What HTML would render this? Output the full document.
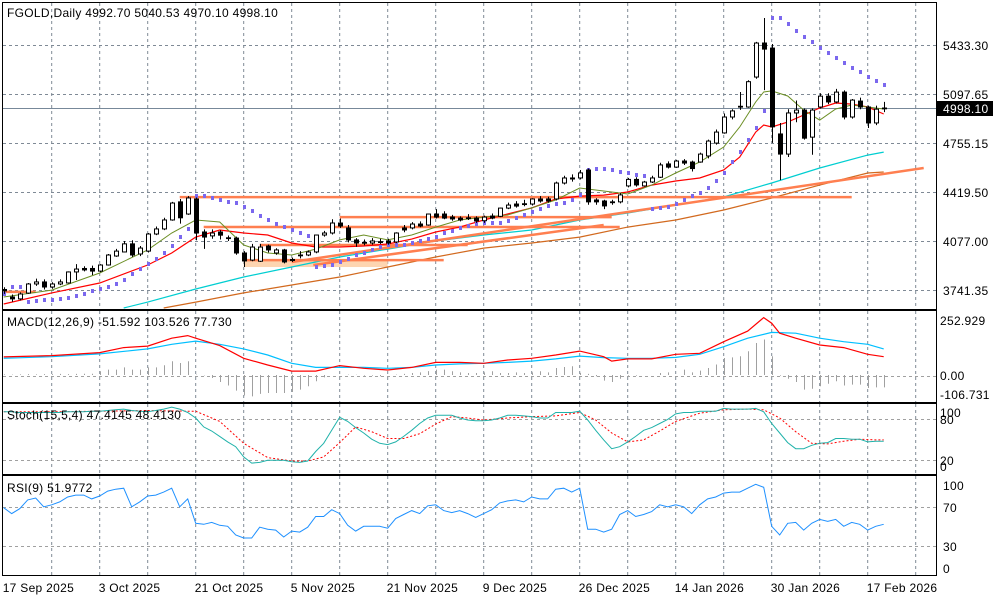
<!DOCTYPE html>
<html><head><meta charset="utf-8"><title>FGOLD Daily</title>
<style>html,body{margin:0;padding:0;background:#fff;}svg{display:block;font-family:"Liberation Sans",sans-serif;font-size:12px;letter-spacing:0.3px;}</style>
</head><body>
<svg id="chart" width="1000" height="600" viewBox="0 0 1000 600" xmlns="http://www.w3.org/2000/svg">
<rect x="0" y="0" width="1000" height="600" fill="#fff"/>
<defs>
<clipPath id="cMain"><rect x="2" y="2" width="934" height="307"/></clipPath>
<clipPath id="cMacd"><rect x="2" y="311" width="934" height="91"/></clipPath>
<clipPath id="cSto"><rect x="2" y="404" width="934" height="70"/></clipPath>
<clipPath id="cRsi"><rect x="2" y="476" width="934" height="99"/></clipPath>
</defs>
<g id="grid"></g>
<g id="main" clip-path="url(#cMain)"></g>
<g id="macd" clip-path="url(#cMacd)"></g>
<g id="sto" clip-path="url(#cSto)"></g>
<g id="rsi" clip-path="url(#cRsi)"></g>
<g id="frames">
<rect x="2.5" y="2.5" width="934" height="307" fill="none" stroke="#000"/>
<rect x="2.5" y="310.5" width="934" height="92" fill="none" stroke="#000"/>
<rect x="2.5" y="403.5" width="934" height="71" fill="none" stroke="#000"/>
<rect x="2.5" y="475.5" width="934" height="100" fill="none" stroke="#000"/>
</g>
<g id="labels">
<text x="7" y="17">FGOLD,Daily  4992.70 5040.53 4970.10 4998.10</text>
<text x="7" y="326">MACD(12,26,9) -51.592 103.526 77.730</text>
<text x="7" y="419">Stoch(15,5,4) 47.4145 48.4130</text>
<text x="7" y="492">RSI(9) 51.9772</text>
<text x="940" y="325">252.929</text>
<text x="940" y="380">0.00</text>
<text x="940" y="399">-106.731</text>
<text x="940" y="417">100</text>
<text x="940" y="424">80</text>
<text x="940" y="465">20</text>
<text x="940" y="471">0</text>
<text x="943" y="490">100</text>
<text x="943" y="512">70</text>
<text x="943" y="551">30</text>
<text x="943" y="573">0</text>
</g>
</svg>
<script>
const NS="http://www.w3.org/2000/svg";
const opens=[3745,3693,3680,3720,3783,3797,3762,3783,3790,3866,
3890,3890,3872,3914,3976,4004,4060,3990,4010,4128,
4163,4225,4350,4266,4370,4142,4115,4142,4100,4100,
3997,3948,3940,4045,3997,4018,3952,3980,3983,4004,
4121,4135,4204,4170,4087,4070,4066,4073,4080,4073,
4170,4170,4197,4190,4266,4266,4245,4238,4240,4238,
4220,4252,4250,4307,4335,4335,4335,4370,4370,4370,
4480,4515,4515,4570,4363,4356,4350,4350,4460,4505,
4460,4487,4520,4612,4590,4632,4625,4625,4667,4756,
4826,4936,5005,5005,5212,5447,5412,4819,4680,4964,
4984,4797,5005,5080,5040,5108,4936,5046,5005,4895,4992.7];
const closes=[3735,3680,3714,3783,3797,3762,3783,3797,3866,3886,
3880,3872,3914,3983,4010,4060,3983,4031,4128,4163,
4225,4342,4240,4377,4135,4107,4135,4120,4102,3997,
3942,4038,4038,4018,4018,3935,3945,3983,4004,4121,
4135,4204,4183,4087,4066,4066,4080,4075,4066,4135,
4156,4197,4183,4266,4245,4238,4232,4225,4238,4218,
4245,4238,4307,4328,4321,4337,4370,4356,4356,4480,
4515,4508,4550,4350,4350,4322,4348,4398,4505,4467,
4487,4515,4605,4590,4632,4618,4580,4680,4770,4832,
4936,4978,5010,5180,5447,5405,4868,4680,4964,4984,
4790,4984,5080,5040,5108,4936,5053,5005,4895,4990,4998.1];
const highs=[3760,3710,3725,3790,3820,3815,3795,3815,3870,3920,
3905,3910,3920,3990,4025,4080,4085,4045,4135,4180,
4240,4350,4370,4390,4380,4160,4160,4155,4118,4110,
4010,4060,4060,4055,4030,4025,3965,4010,4015,4125,
4150,4230,4235,4190,4100,4090,4100,4095,4095,4140,
4190,4210,4215,4270,4300,4285,4260,4250,4265,4250,
4255,4270,4310,4345,4355,4365,4375,4390,4385,4490,
4530,4540,4570,4580,4375,4365,4365,4410,4515,4520,
4495,4530,4620,4630,4640,4645,4635,4690,4780,4850,
4960,4990,5109,5190,5455,5620,5440,4895,4990,5050,
4995,4995,5100,5100,5130,5120,5060,5070,5015,5015,5040.53];
const lows=[3715,3660,3670,3715,3770,3745,3750,3775,3785,3810,
3870,3845,3865,3910,3970,4000,3970,3975,4000,4120,
4155,4220,4200,4260,4085,4025,4095,4090,4080,3985,
3900,3940,3935,4000,3985,3925,3935,3960,3975,3995,
4110,4125,4170,4070,4040,4050,4055,4060,4055,4065,
4140,4160,4175,4185,4235,4230,4220,4215,4225,4205,
4205,4230,4245,4300,4310,4320,4325,4345,4345,4360,
4470,4490,4505,4330,4330,4300,4330,4340,4450,4455,
4455,4480,4515,4580,4585,4605,4560,4620,4650,4745,
4820,4920,4985,5000,5200,5122,4757,4500,4660,4900,
4780,4675,4995,5025,5030,4920,4925,4990,4860,4880,4970.1];
const maIdx=[0,6,12,18,21,24,27,30,33,36,39,42,45,48,51,54,57,60,63,66,69,72,75,78,81,84,87,90,92,94,95,96,98,100,102,104,106,108,110];
const maFast=[3693,3741,3859,4018,4135,4225,4211,4052,3997,3983,4024,4087,4121,4087,4121,4176,4225,4245,4259,4308,4363,4446,4425,4404,4466,4549,4625,4729,4867,5040,5109,5116,5081,4984,4915,4991,5019,5005,4991];
const maMid=[3645,3721,3790,3914,3997,4107,4156,4135,4121,4066,4038,4038,4045,4059,4093,4142,4176,4225,4266,4308,4370,4390,4397,4418,4466,4494,4515,4570,4659,4832,4881,4867,4901,4950,4998,5033,5025,5005,4957];
const maSlowIdx=[15,18,24,30,36,42,48,54,60,66,72,78,84,90,96,102,108,110];
const maSlow=[3617,3658,3748,3831,3900,3969,4024,4080,4121,4156,4225,4273,4328,4384,4480,4584,4673,4694];
const maLongIdx=[20,24,30,36,42,48,54,60,66,72,78,84,90,96,102,108,110];
const maLong=[3617,3658,3721,3776,3831,3900,3969,4031,4066,4107,4176,4225,4294,4377,4466,4549,4556];
const macdIdx=[0,6,12,15,18,21,23,24,27,30,33,36,39,42,45,48,51,54,57,60,63,66,69,72,75,76,78,81,84,87,90,93,95,96,97,99,102,105,108,110];
const macdMain=[83,89,103,126,133,169,181,169,135,77,46,18,18,43,31,23,35,58,58,54,69,77,92,110,84,64,74,74,95,100,153,202,264,238,192,169,138,126,95,84];
const sigIdx=[0,6,12,18,21,24,27,30,33,36,39,42,45,48,51,54,57,60,63,66,69,72,75,78,81,84,87,90,93,96,99,102,105,108,110];
const macdSignal=[77,84,97,120,141,156,141,120,92,54,35,35,35,31,35,46,51,54,58,64,74,87,80,77,77,81,95,130,169,196,192,169,153,141,120];
const macdHist=[3,2,3,4,3,4,4,5,4,5,
6,6,17,25,25,35,25,25,35,35,
45,63,55,63,2,-2,-14,-32,-48,-72,
-94,-98,-87,-83,-83,-83,-78,-67,-52,-29,
-11,0,0,2,1,-3,-3,-6,0,2,
5,9,12,18,25,25,17,12,9,9,
12,17,9,9,12,9,12,17,12,32,
37,40,10,5,-6,-26,-32,-17,-3,-3,
0,0,9,12,0,25,12,20,32,48,
78,81,86,109,147,163,86,-3,-17,-32,
-67,-63,-52,-40,-29,-48,-44,-44,-60,-57,-57];
const stochK=[91,91,90,90,90,90,90,90,91,91,
91,92,92,93,94,95,93,92,91,93,
95,98,95,90,82,69,63,55,47,40,
25,16,17,20,20,20,18,17,19,33,
45,64,83,77,68,60,51,45,43,47,
55,64,74,82,86,86,86,82,79,78,
78,79,82,86,86,85,84,82,82,90,
90,90,92,79,64,50,37,40,47,55,
64,68,74,80,88,90,90,92,92,92,
96,95,95,95,96,91,74,60,46,37,
37,42,45,46,52,52,51,51,47,48,48];
const stochSigIdx=[0,6,12,18,23,24,27,30,33,36,38,40,42,44,46,48,50,52,54,56,58,60,63,66,69,72,74,76,78,80,82,84,87,90,93,95,97,99,101,103,105,107,109,110];
const stochSignal=[91,91,92,93,92,92,77,45,24,19,19,25,46,69,62,52,52,59,73,84,82,79,82,84,85,90,79,60,47,50,63,77,89,94,95,94,82,62,45,44,48,51,50,50];
const rsiVals=[69,63,68,77,79,70,72,75,80,82,
82,78,81,86,88,89,70,75,81,82,
85,89,70,78,53,52,54,51,50,41,
38,38,49,47,46,39,45,44,49,60,
60,67,63,51,45,50,50,50,48,58,
62,66,63,71,72,66,64,66,63,59,
63,67,74,76,77,75,80,78,78,88,
89,85,89,47,47,44,47,62,66,60,
62,65,72,70,72,70,63,72,78,80,
84,85,85,89,93,90,50,41,53,54,
46,53,57,55,57,50,54,52,46,50,52];
const priceTicks=[5433.30,5097.65,4755.15,4419.50,4077.00,3741.35];
const dateLabels=["17 Sep 2025","3 Oct 2025","21 Oct 2025","5 Nov 2025","21 Nov 2025","9 Dec 2025","26 Dec 2025","14 Jan 2026","30 Jan 2026","17 Feb 2026"];
const dateBars=[0,12,24,36,48,60,72,84,96,108];
const lastPrice=4998.10;
const levelLines=[[4383,22,4383,106],[4245,42,4245,76],[4176,25,4176,77],[4052,32,4052,58],[3948,30,3948,55],[3935,36,4584,115],[3914,38.7,4190,75],[3728,0,3728,4]];
const zoneBox=[3948,3900,30,48];

function py(p){return 45+(5433.3-p)*0.144803;}
function bx(i){return 3.7+8*i;}
function my(v){return 375-v*0.2175;}
function sy(v){return 474-v*0.683;}
function ry(v){return 575-v*0.975;}
function mk(tag,parent,attrs){const e=document.createElementNS(NS,tag);for(const k in attrs)e.setAttribute(k,attrs[k]);parent.appendChild(e);return e;}

const grid=document.getElementById('grid');
const main=document.getElementById('main');
const macdG=document.getElementById('macd');
const stoG=document.getElementById('sto');
const rsiG=document.getElementById('rsi');
const labels=document.getElementById('labels');
const GC="#7f8a96";
for(let k=0;k<19;k++){const x=51.7+48*k;
 [[3,309],[311,402],[404,474],[476,575]].forEach(r=>{
  const l=mk('line',grid,{x1:x,x2:x,y1:r[0],y2:r[1],stroke:GC,'stroke-dasharray':'3,3'});
  
  
 });}
priceTicks.forEach(p=>{const y=Math.round(py(p))+0.5;
 const l=mk('line',grid,{x1:3,x2:936,y1:y,y2:y,stroke:GC,'stroke-dasharray':'3,3'});
 
 
 const t=mk('text',labels,{x:943,y:y+4.5});t.textContent=p.toFixed(2);
 
 
});
[[375.5],[sy(80)],[sy(20)],[ry(70)],[ry(30)]].forEach(a=>{const y=Math.round(a[0])+0.5;
 const l=mk('line',grid,{x1:3,x2:936,y1:y,y2:y,stroke:'#a0a0a0','stroke-dasharray':'3,3'});
 
 
});
dateLabels.forEach((d,i)=>{const t=mk('text',labels,{x:bx(dateBars[i])-1,y:592});t.textContent=d;
 
 
});
const cpY=Math.round(py(lastPrice))+0.5;
const cpl=mk('line',main,{x1:3,x2:936,y1:cpY,y2:cpY,stroke:'#778899'});


const cpb=mk('rect',labels,{x:937,y:cpY-7.5,width:56,height:15,fill:'#000'});


const cpt=mk('text',labels,{x:943,y:cpY+4.5,fill:'#fff'});cpt.textContent=lastPrice.toFixed(2);



const zb=mk('rect',main,{x:bx(zoneBox[2]),y:py(zoneBox[0]),width:bx(zoneBox[3])-bx(zoneBox[2]),height:py(zoneBox[1])-py(zoneBox[0]),fill:'#fdd5b1'});


function poly(g,idx,vals,fy,color,w,dash,name){
 const pts=idx.map((i,k)=>bx(i).toFixed(1)+','+fy(vals[k]).toFixed(1)).join(' ');
 const e=mk('polyline',g,{points:pts,fill:'none',stroke:color,'stroke-width':w});
 if(dash)e.setAttribute('stroke-dasharray',dash);
 
 
 return e;}
const allIdx=closes.map((c,i)=>i);
poly(main,maLongIdx,maLong,py,'#d2691e',1.2,null,'ma-long-line');
poly(main,maSlowIdx,maSlow,py,'#00ced1',1.2,null,'ma-slow-line');
levelLines.forEach(L=>{
 const e=mk('line',main,{x1:bx(L[1]),y1:py(L[0]),x2:bx(L[3]),y2:py(L[2]),stroke:'#ff7f50','stroke-width':2.5});
 
 
});
poly(main,maIdx,maMid,py,'#ff0000',1.2,null,'ma-mid-line');
poly(main,maIdx,maFast,py,'#6b8e23',1,null,'ma-fast-line');

(function(){let up=true,af=0.02,ep=highs[0],sar=lows[0];const s=[sar];
 for(let i=1;i<closes.length;i++){sar=sar+af*(ep-sar);
  if(up){sar=Math.min(sar,lows[i-1],lows[Math.max(0,i-2)]);
   if(lows[i]<sar){up=false;sar=ep;ep=lows[i];af=0.02;}
   else if(highs[i]>ep){ep=highs[i];af=Math.min(af+0.02,0.2);}}
  else{sar=Math.max(sar,highs[i-1],highs[Math.max(0,i-2)]);
   if(highs[i]>sar){up=true;sar=ep;ep=highs[i];af=0.02;}
   else if(lows[i]<ep){ep=lows[i];af=Math.min(af+0.02,0.2);}}
  s.push(sar);}
 s.forEach((v,i)=>{const d=mk('rect',main,{x:Math.round(bx(i))-1,y:Math.round(py(v))-2,width:3,height:4,fill:'#7b68ee'});
  
  });
})();

closes.forEach((c,i)=>{const o=opens[i],x=Math.round(bx(i));
 const w=mk('line',main,{x1:x+0.5,x2:x+0.5,y1:py(highs[i]),y2:py(lows[i]),stroke:'#000'});
 
 
 const top=py(Math.max(o,c)),bot=py(Math.min(o,c));
 const b=mk('rect',main,{x:x-2+0.5,y:top,width:4,height:Math.max(bot-top,0.8),fill:c>=o?'#fff':'#000',stroke:'#000'});
 
 
});

macdHist.forEach((v,i)=>{const x=Math.round(bx(i))+0.5;
 const h=mk('line',macdG,{x1:x,x2:x,y1:my(0),y2:my(v),stroke:'#a0a0a0'});
 
 });
poly(macdG,sigIdx,macdSignal,my,'#00bfff',1.2,null,'macd-signal-line');
poly(macdG,macdIdx,macdMain,my,'#ff0000',1.2,null,'macd-main-line');
poly(stoG,stochSigIdx,stochSignal,sy,'#ff0000',1,'2,2','stoch-signal-line');
poly(stoG,allIdx,stochK,sy,'#20b2aa',1,null,'stoch-main-line');
poly(rsiG,allIdx,rsiVals,ry,'#1e90ff',1,null,'rsi-line');
</script>
</body></html>
